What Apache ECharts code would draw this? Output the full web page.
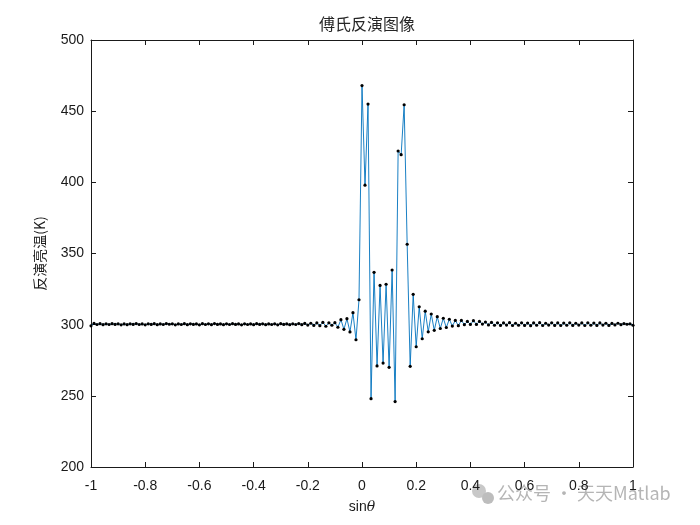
<!DOCTYPE html>
<html>
<head>
<meta charset="utf-8">
<script src="https://cdn.jsdelivr.net/npm/echarts@6/dist/echarts.min.js"></script>
<style>html,body{margin:0;padding:0;background:#fff;}#c{width:700px;height:525px;}</style>
</head>
<body>
<div id="c"></div>
<script>
// x grid: 181 uniform samples of sinθ from -1 to 1
var xMin = -1, xMax = 1, nPts = 181;
var yTicks = [200, 250, 300, 350, 400, 450, 500];
var xTicks = [-1, -0.8, -0.6, -0.4, -0.2, 0, 0.2, 0.4, 0.6, 0.8, 1];
var titleText = '傅氏反演图像';
var yName = '反演亮温(K)';
// brightness temperature values (K), one per sample
var tb = [
 299.2, 300.9, 300.1, 300.7, 300.0, 300.6, 300.1, 300.7, 300.2, 300.6,
 299.9, 300.5, 300.0, 300.6, 300.2, 300.8, 300.1, 300.5, 299.9, 300.6,
 300.2, 300.7, 300.0, 300.5, 300.1, 300.8, 300.3, 300.6, 299.9, 300.5,
 300.1, 300.7, 300.0, 300.6, 300.2, 300.5, 299.9, 300.7, 300.1, 300.6,
 300.0, 300.8, 300.2, 300.5, 300.0, 300.6, 300.1, 300.7, 300.2, 300.5,
 299.9, 300.6, 300.1, 300.5, 300.0, 300.7, 300.2, 300.6, 300.0, 300.5,
 300.1, 300.6, 299.9, 300.7, 300.2, 300.5, 300.0, 300.6, 300.1, 300.8,
 300.0, 300.9, 299.7, 301.0, 299.5, 301.2, 299.3, 301.6, 298.9, 301.3,
 299.6, 301.4, 298.2, 303.5, 296.7, 304.2, 294.9, 308.4, 289.4, 317.5,
 468.0, 398.0, 455.0, 248.0, 336.8, 271.0, 327.6, 273.0, 328.4, 270.0,
 338.4, 246.0, 422.0, 419.4, 454.5, 356.5, 270.7, 321.3, 284.5, 312.6,
 290.1, 309.5, 295.0, 307.5, 296.0, 305.6, 297.3, 304.5, 298.0, 303.8,
 299.0, 303.0, 299.3, 303.0, 300.0, 302.3, 300.2, 302.8, 300.2, 302.3,
 300.4, 301.8, 299.8, 301.6, 299.6, 301.3, 299.5, 301.2, 299.7, 301.4,
 299.4, 301.0, 299.6, 301.3, 299.5, 301.1, 299.3, 301.2, 299.6, 301.4,
 299.4, 301.0, 299.7, 301.3, 299.5, 301.2, 299.4, 301.1, 299.6, 301.3,
 299.5, 301.0, 299.7, 301.2, 299.4, 301.3, 299.6, 301.1, 299.5, 301.2,
 299.7, 301.0, 299.5, 300.9, 299.8, 301.0, 300.0, 300.8, 300.3, 300.6,
 299.6
];

var data = [];
for (var i = 0; i < tb.length; i++) {
  data.push([xMin + (xMax - xMin) * i / (nPts - 1), tb[i]]);
}

var chart = echarts.init(document.getElementById('c'), null, {renderer: 'canvas'});
var labelFont = 'Liberation Sans, Arial, sans-serif';
var ink = '#1a1a1a';
var lineSt = {show: true, onZero: false, lineStyle: {color: ink, width: 1}};
var tickSt = {show: true, inside: true, length: 5, lineStyle: {color: ink, width: 1}};
chart.setOption({
  animation: false,
  backgroundColor: '#fff',
  title: {
    text: titleText, left: 362, top: 11, textAlign: 'center',
    textStyle: {fontFamily: 'Noto Sans CJK SC', fontSize: 16, fontWeight: 'normal', color: '#262626'}
  },
  grid: {left: 91, right: 67, top: 40, bottom: 58, containLabel: false},
  xAxis: [
    {
      type: 'value', min: xMin, max: xMax, interval: 0.2, position: 'bottom',
      name: '{a|sin}{b|θ}', nameLocation: 'middle', nameGap: 33,
      nameTextStyle: {rich: {
        a: {fontFamily: labelFont, fontSize: 14, color: ink},
        b: {fontFamily: 'DejaVu Serif, serif', fontStyle: 'italic', fontSize: 14, color: ink}
      }},
      axisLine: lineSt, axisTick: tickSt, splitLine: {show: false},
      axisLabel: {
        margin: 12, fontFamily: labelFont, fontSize: 14, color: ink,
        formatter: function (v) { return String(Math.round(v * 10) / 10); }
      }
    },
    {
      type: 'value', min: xMin, max: xMax, interval: 0.2, position: 'top',
      axisLine: lineSt, axisTick: tickSt, splitLine: {show: false},
      axisLabel: {show: false}
    }
  ],
  yAxis: [
    {
      type: 'value', min: 200, max: 500, interval: 50, position: 'left',
      name: yName, nameLocation: 'middle', nameGap: 44,
      nameTextStyle: {fontFamily: 'Noto Sans CJK SC', fontSize: 14, color: ink},
      axisLine: lineSt, axisTick: tickSt, splitLine: {show: false},
      axisLabel: {margin: 7, fontFamily: labelFont, fontSize: 14, color: ink}
    },
    {
      type: 'value', min: 200, max: 500, interval: 50, position: 'right',
      axisLine: lineSt, axisTick: tickSt, splitLine: {show: false},
      axisLabel: {show: false}
    }
  ],
  series: [{
    type: 'line',
    data: data,
    xAxisIndex: 0, yAxisIndex: 0,
    showAllSymbol: true,
    symbol: 'circle', symbolSize: 3.2,
    itemStyle: {color: '#000'},
    lineStyle: {color: '#0072BD', width: 0.9},
    silent: true
  }],
  graphic: [
    {type: 'circle', shape: {cx: 479, cy: 491, r: 7}, style: {fill: '#c8c8c8'}},
    {type: 'circle', shape: {cx: 488, cy: 498, r: 6}, style: {fill: '#bdbdbd'}},
    {type: 'text', left: 497, top: 484, style: {
      text: '公众号 · 天天Matlab', fontFamily: 'Noto Sans CJK SC', fontSize: 18, fill: '#b5b5b5'
    }}
  ]
});
</script>
</body>
</html>
